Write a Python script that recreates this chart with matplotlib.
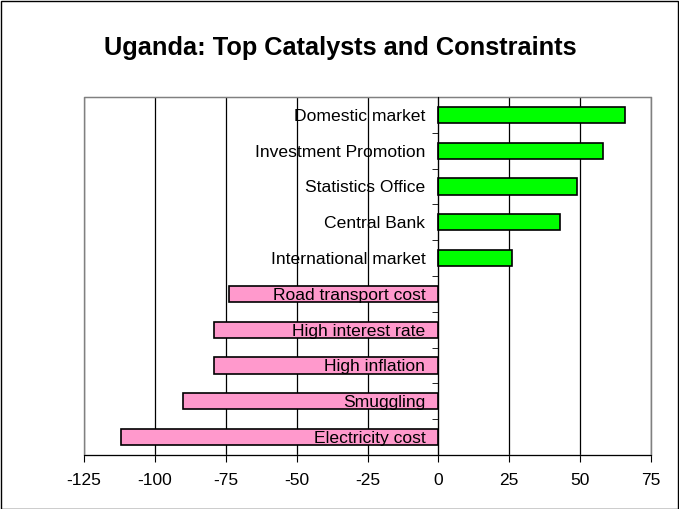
import matplotlib
matplotlib.use("Agg")
import matplotlib.pyplot as plt
from matplotlib.patches import Rectangle
import matplotlib.transforms as mtransforms
import numpy as np

plt.rcParams['font.family'] = ['Liberation Sans', 'DejaVu Sans']

categories = ["Domestic market", "Investment Promotion", "Statistics Office",
              "Central Bank", "International market", "Road transport cost",
              "High interest rate", "High inflation", "Smuggling", "Electricity cost"]
values = [66, 58, 49, 43, 26, -74, -79, -79, -90, -112]
xticks = [-125, -100, -75, -50, -25, 0, 25, 50, 75]
title = "Uganda: Top Catalysts and Constraints"

fig = plt.figure(figsize=(6.79, 5.09), dpi=100)
ax = fig.add_axes([84/679, 54/509, 567/679, 358/509])

y = np.arange(len(categories))
colors = ['#00FF00' if v > 0 else '#FF99CC' for v in values]
ax.barh(y, values, height=0.45, color=colors, edgecolor='black', linewidth=1.2, zorder=2)

ax.set_xlim(-125, 75)
ax.set_ylim(len(categories) - 0.5, -0.5)
ax.set_xticks(xticks)
ax.set_xticklabels([str(t) for t in xticks], fontsize=12.5)
ax.set_yticks(y)
ax.set_yticklabels([])
ax.set_yticks(np.arange(-0.5, len(categories), 1), minor=True)

ax.tick_params(axis='y', which='major', length=0)
ax.tick_params(axis='y', which='minor', length=4, direction='out', color='black')
ax.tick_params(axis='x', which='major', length=5, direction='out', pad=8)

ax.set_axisbelow(True)
ax.xaxis.grid(True, color='black', linewidth=0.9, zorder=0)

for s in ['top', 'right']:
    ax.spines[s].set_color('#808080')
ax.spines['left'].set_position(('data', 0))
ax.spines['left'].set_color('black')
ax.spines['left'].set_zorder(3)
ax.spines['bottom'].set_color('black')
ax.add_patch(Rectangle((0, 0), 1, 1, transform=ax.transAxes, fill=False,
                       edgecolor='#808080', linewidth=1, zorder=1, clip_on=False))

offset = mtransforms.ScaledTranslation(-13/100, 0, fig.dpi_scale_trans)
for yi, cat in zip(y, categories):
    ax.text(0, yi, cat, ha='right', va='center_baseline', fontsize=12.6,
            transform=ax.transData + offset, zorder=5)

fig.text(340/679, 1 - 48/509, title, ha='center', va='center',
         fontsize=18.3, fontweight='bold')

fig.patches.append(Rectangle((0.5/679, 0.5/509), 677.5/679, 507.5/509,
                             transform=fig.transFigure, fill=False,
                             edgecolor='black', linewidth=1))

fig.savefig('out.png', dpi=100)
